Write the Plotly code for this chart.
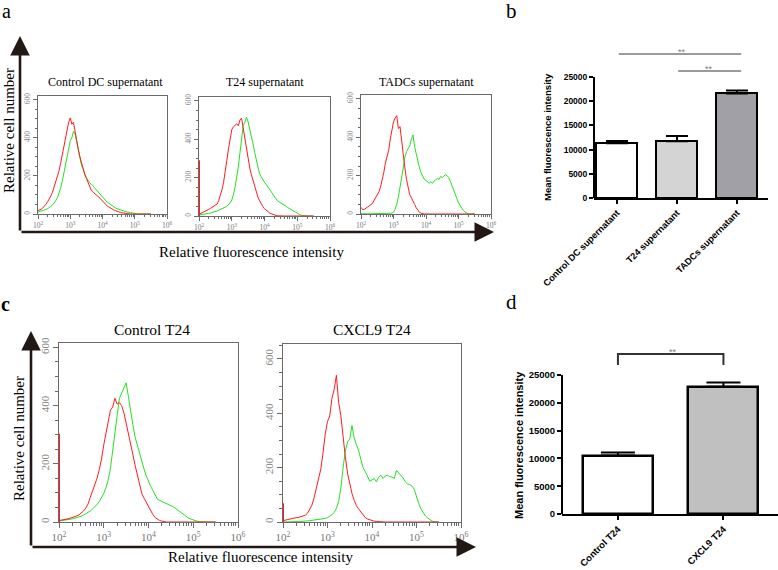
import plotly.graph_objects as go

W, H = 778, 570
SERIF = "Liberation Serif"
SANS = "Liberation Sans"
RED = "#ff1c1c"
GREEN = "#24e024"

# ---------------- data ----------------
LOG_GRID = [2.00, 2.05, 2.10, 2.15, 2.20, 2.25, 2.30, 2.35, 2.40, 2.45,
            2.50, 2.55, 2.60, 2.65, 2.70, 2.75, 2.80, 2.85, 2.90, 2.95,
            3.00, 3.05, 3.10, 3.15, 3.20, 3.25, 3.30, 3.35, 3.40, 3.45,
            3.50, 3.55, 3.60, 3.65, 3.70, 3.75, 3.80, 3.85, 3.90, 3.95,
            4.00, 4.05, 4.10, 4.15, 4.20, 4.25, 4.30, 4.35, 4.40, 4.45,
            4.50, 4.55, 4.60, 4.65, 4.70, 4.75, 4.80, 4.85, 4.90, 4.95,
            5.00, 5.05, 5.10, 5.15, 5.20, 5.25, 5.30, 5.35, 5.40, 5.45,
            5.50]

A1_RED = [18, 20, 25, 32, 40, 52, 65, 78, 95, 115,
          140, 165, 195, 225, 265, 310, 350, 395, 440, 482,
          505, 472, 482, 430, 385, 340, 300, 265, 240, 210,
          188, 165, 140, 125, 118, 108, 100, 95, 85, 76,
          70, 60, 50, 42, 36, 30, 25, 21, 18, 14,
          12, 9, 7, 5, 4, 2, 1, 0, 0, 0,
          0, 0, 0, 0, 0, 0, 0, 0, 0, 0, 0]
A1_GREEN = [10, 12, 14, 17, 20, 24, 28, 33, 40, 48,
            58, 70, 85, 105, 135, 170, 210, 255, 300, 345,
            385, 400, 435, 420, 380, 340, 295, 255, 235, 205,
            190, 175, 165, 155, 150, 138, 128, 120, 105, 95,
            88, 78, 70, 62, 55, 48, 42, 36, 32, 28,
            26, 24, 20, 17, 14, 11, 9, 6, 4, 3,
            1, 0, 0, 0, 0, 0, 0, 0, 0, 0, 0]
A2_RED = [8, 12, 16, 20, 25, 30, 35, 40, 45, 50,
          55, 62, 80, 105, 136, 175, 223, 290, 350, 410,
          450, 465, 475, 480, 470, 500, 510, 455, 400, 340,
          290, 250, 215, 185, 150, 125, 98, 80, 62, 49,
          38, 30, 23, 17, 12, 8, 5, 3, 1, 0,
          0, 0, 0, 0, 0, 0, 0, 0, 0, 0,
          0, 0, 0, 0, 0, 0, 0, 0, 0, 0, 0]
A2_GREEN = [5, 6, 8, 10, 12, 13, 14, 16, 18, 20,
            23, 26, 30, 33, 38, 42, 46, 50, 58, 68,
            83, 110, 150, 195, 255, 330, 405, 470, 490, 515,
            490, 455, 415, 375, 330, 290, 250, 220, 205, 188,
            175, 165, 153, 140, 125, 112, 100, 88, 78, 72,
            68, 63, 58, 52, 45, 40, 33, 28, 22, 17,
            12, 9, 5, 3, 1, 0, 0, 0, 0, 0, 0]
A3_RED = [35, 22, 24, 28, 36, 42, 48, 55, 70, 85,
          100, 115, 140, 175, 215, 265, 300, 330, 390, 440,
          480, 500, 512, 445, 455, 385, 300, 240, 180, 130,
          100, 85, 70, 50, 32, 18, 9, 4, 1, 0,
          0, 0, 0, 0, 0, 0, 0, 0, 0, 0,
          0, 0, 0, 0, 0, 0, 0, 0, 0, 0,
          0, 0, 0, 0, 0, 0, 0, 0, 0, 0, 0]
A3_GREEN = [2, 1, 1, 1, 1, 1, 1, 1, 1, 1,
            1, 1, 1, 1, 2, 2, 2, 3, 4, 5,
            10, 25, 50, 90, 135, 185, 240, 295, 325, 340,
            355, 390, 412, 350, 310, 265, 240, 215, 195, 180,
            175, 165, 160, 168, 160, 172, 178, 185, 180, 195,
            190, 198, 205, 200, 190, 170, 150, 125, 100, 80,
            58, 42, 28, 18, 10, 5, 2, 0, 0, 0, 0]
C1_RED = [5, 6, 8, 9, 11, 13, 15, 18, 21, 25,
          30, 38, 48, 62, 85, 105, 130, 150, 180, 216,
          265, 310, 345, 385, 395, 425, 405, 410, 400, 375,
          340, 300, 265, 232, 195, 160, 122, 98, 82, 67,
          52, 40, 25, 15, 9, 5, 3, 1, 0, 0,
          0, 0, 0, 0, 0, 0, 0, 0, 0, 0,
          0, 0, 0, 0, 0, 0, 0, 0, 0, 0, 0]
C1_GREEN = [3, 4, 5, 6, 8, 10, 11, 13, 15, 17,
            20, 24, 28, 33, 38, 45, 52, 60, 70, 82,
            98, 118, 145, 185, 240, 300, 365, 425, 445, 460,
            478, 432, 375, 335, 292, 262, 235, 212, 182, 158,
            138, 122, 108, 92, 78, 74, 70, 66, 62, 58,
            56, 53, 48, 43, 37, 30, 24, 18, 13, 10,
            7, 4, 2, 1, 0, 0, 0, 0, 0, 0, 0]
C2_RED = [5, 7, 9, 11, 14, 15, 16, 17, 19, 22,
          25, 32, 45, 62, 90, 124, 152, 195, 255, 325,
          370, 390, 455, 488, 540, 440, 391, 305, 240, 180,
          142, 105, 80, 60, 48, 37, 24, 16, 11, 8,
          5, 3, 2, 1, 0, 0, 0, 0, 0, 0,
          0, 0, 0, 0, 0, 0, 0, 0, 0, 0,
          0, 0, 0, 0, 0, 0, 0, 0, 0, 0, 0]
C2_GREEN = [0, 1, 1, 1, 1, 2, 2, 2, 2, 2,
            3, 4, 5, 6, 7, 8, 9, 10, 11, 13,
            16, 20, 27, 35, 50, 75, 125, 200, 260, 295,
            305, 355, 310, 285, 262, 230, 200, 185, 170, 150,
            155, 160, 148, 165, 172, 160, 170, 172, 167, 165,
            160, 190, 180, 172, 162, 148, 140, 138, 132, 120,
            90, 68, 48, 32, 22, 15, 8, 3, 1, 0, 0]

# first-channel pile-up at 10^2 : (red, green)
SPIKES = {"a1": (0, 0), "a2": (290, 92), "a3": (0, 0), "c1": (303, 173), "c2": (69, 0)}

HIST_TITLES = ["Control DC supernatant", "T24 supernatant", "TADCs supernatant",
               "Control T24", "CXCL9 T24"]
HIST_TICKS_X = [1e2, 1e3, 1e4, 1e5, 1e6]
HIST_TICKTEXT_X = ["10<sup>2</sup>", "10<sup>3</sup>", "10<sup>4</sup>", "10<sup>5</sup>", "10<sup>6</sup>"]
HIST_TICKS_Y = [0, 200, 400, 600]

B_CATS = ["Control DC supernatant", "T24 supernatant", "TADCs supernatant"]
B_MEANS = [11300, 11700, 21600]
B_ERRS = [500, 1100, 600]
B_COLORS = ["#ffffff", "#d4d4d4", "#a0a0a6"]

D_CATS = ["Control T24", "CXCL9 T24"]
D_MEANS = [10500, 22900]
D_ERRS = [550, 750]
D_COLORS = ["#ffffff", "#c0c0c0"]

BAR_TICKS_Y = [0, 5000, 10000, 15000, 20000, 25000]


def px(x):
    return x / W


def py(y):
    return 1 - y / H


fig = go.Figure()

# --------- histogram panels ---------
HPANELS = [
    ("a1", "", (38, 167), (96, 214), 620, 7.5, A1_RED, A1_GREEN),
    ("a2", "2", (199, 330), (97, 216), 620, 7.5, A2_RED, A2_GREEN),
    ("a3", "3", (361, 491), (95, 214), 620, 7.5, A3_RED, A3_GREEN),
    ("c1", "5", (59, 238), (343, 522), 615, 11, C1_RED, C1_GREEN),
    ("c2", "6", (283, 461), (344, 522), 655, 11, C2_RED, C2_GREEN),
]
XS = [10 ** v for v in LOG_GRID]
MINOR_X = [m * 10 ** e for e in range(2, 6) for m in range(2, 10)]

layout_axes = {}
for key, sfx, (x0, x1), (y0, y1), ymax, fs, red, green in HPANELS:
    xa = "x" + sfx
    ya = "y" + sfx
    fig.add_trace(go.Scatter(x=XS, y=green, mode="lines", line=dict(color=GREEN, width=1),
                             xaxis=xa, yaxis=ya, showlegend=False, hoverinfo="skip"))
    fig.add_trace(go.Scatter(x=XS, y=red, mode="lines", line=dict(color=RED, width=1),
                             xaxis=xa, yaxis=ya, showlegend=False, hoverinfo="skip"))
    sr, sg = SPIKES[key]
    if sg:
        fig.add_trace(go.Scatter(x=[100, 100], y=[0, sg], mode="lines", line=dict(color=GREEN, width=2),
                                 xaxis=xa, yaxis=ya, showlegend=False, hoverinfo="skip"))
    if sr:
        fig.add_trace(go.Scatter(x=[100, 100], y=[0, sr], mode="lines", line=dict(color=RED, width=2),
                                 xaxis=xa, yaxis=ya, showlegend=False, hoverinfo="skip"))
    layout_axes["xaxis" + sfx] = dict(
        type="log", range=[2, 6], domain=[px(x0), px(x1)], anchor=ya, automargin=False,
        showline=True, mirror=True, linecolor="#6a6a6a", linewidth=1,
        ticks="outside", ticklen=4 if fs < 10 else 5, tickcolor="#6a6a6a",
        tickmode="array", tickvals=HIST_TICKS_X, ticktext=HIST_TICKTEXT_X,
        tickfont=dict(family=SERIF, size=fs, color="#777777"),
        minor=dict(tickmode="array", tickvals=MINOR_X, ticks="outside",
                   ticklen=2 if fs < 10 else 3, tickcolor="#6a6a6a"),
        showgrid=False, zeroline=False, fixedrange=True,
    )
    layout_axes["yaxis" + sfx] = dict(
        range=[0, ymax], domain=[py(y1), py(y0)], anchor=xa, automargin=False,
        showline=True, mirror=True, linecolor="#6a6a6a", linewidth=1,
        ticks="outside", ticklen=4 if fs < 10 else 5, tickcolor="#6a6a6a",
        tickmode="array", tickvals=HIST_TICKS_Y, tickangle=-90,
        tickfont=dict(family=SERIF, size=fs, color="#888888"),
        minor=dict(dtick=50, tick0=0, ticks="outside", ticklen=2 if fs < 10 else 3, tickcolor="#6a6a6a"),
        showgrid=False, zeroline=False, fixedrange=True,
    )

# --------- bar panels ---------
fig.add_trace(go.Bar(
    x=B_CATS, y=B_MEANS, width=0.683,
    marker=dict(color=B_COLORS, line=dict(color="black", width=2)),
    error_y=dict(type="data", array=B_ERRS, arrayminus=[0] * len(B_ERRS), symmetric=False,
                 thickness=2, width=11, color="black"),
    xaxis="x4", yaxis="y4", showlegend=False, hoverinfo="skip"))
fig.add_trace(go.Bar(
    x=D_CATS, y=D_MEANS, width=0.664,
    marker=dict(color=D_COLORS, line=dict(color="black", width=2.5)),
    error_y=dict(type="data", array=D_ERRS, arrayminus=[0] * len(D_ERRS), symmetric=False,
                 thickness=2, width=17, color="black"),
    xaxis="x7", yaxis="y7", showlegend=False, hoverinfo="skip"))

B_YTOP = 25000 * (198 - 45) / 121
D_YTOP = 25000 * (514 - 340) / 139

layout_axes["xaxis4"] = dict(
    type="category", domain=[px(594), px(768)], range=[-0.383, 2.517], anchor="y4", automargin=False,
    showline=True, linecolor="black", linewidth=2, ticks="outside", ticklen=4, tickwidth=1.5,
    tickcolor="black", tickangle=-45,
    tickfont=dict(family=SANS, size=9.2, color="black", weight="bold"),
    showgrid=False, zeroline=False, fixedrange=True)
layout_axes["yaxis4"] = dict(
    domain=[py(198), py(45)], range=[0, B_YTOP], anchor="x4", automargin=False,
    showline=False, ticks="outside", ticklen=4, tickwidth=1.5, tickcolor="black",
    tickmode="array", tickvals=BAR_TICKS_Y, tickformat="d",
    tickfont=dict(family=SANS, size=8.5, color="black", weight="bold"),
    showgrid=False, zeroline=False, fixedrange=True)
layout_axes["xaxis7"] = dict(
    type="category", domain=[px(562), px(778)], range=[-0.53, 1.517], anchor="y7", automargin=False,
    showline=True, linecolor="black", linewidth=2, ticks="outside", ticklen=4, tickwidth=1.5,
    tickcolor="black", tickangle=-45,
    tickfont=dict(family=SANS, size=9.5, color="black", weight="bold"),
    showgrid=False, zeroline=False, fixedrange=True)
layout_axes["yaxis7"] = dict(
    domain=[py(514), py(340)], range=[0, D_YTOP], anchor="x7", automargin=False,
    showline=False, ticks="outside", ticklen=4, tickwidth=1.5, tickcolor="black",
    tickmode="array", tickvals=BAR_TICKS_Y, tickformat="d",
    tickfont=dict(family=SANS, size=9.5, color="black", weight="bold"),
    showgrid=False, zeroline=False, fixedrange=True)

shapes = [
    dict(type="line", xref="x4 domain", yref="y4", x0=0, x1=0, y0=0, y1=25000,
         line=dict(color="black", width=2)),
    dict(type="line", xref="x7 domain", yref="y7", x0=0, x1=0, y0=0, y1=25000,
         line=dict(color="black", width=2)),
    dict(type="line", xref="x4", yref="y4", x0=0.03, x1=2.07, y0=29750, y1=29750,
         line=dict(color="#7a7a7a", width=1.5)),
    dict(type="line", xref="x4", yref="y4", x0=1.02, x1=2.07, y0=26240, y1=26240,
         line=dict(color="#7a7a7a", width=1.5)),
    dict(type="path", xref="x7", yref="y7",
         path="M 0,26800 L 0,28780 L 1,28780 L 1,26800",
         line=dict(color="#333333", width=2)),
]

ann = []


def text(x, y, s, size, family=SERIF, color="black", angle=0, bold=False, xanchor="center",
         yanchor="middle"):
    ann.append(dict(x=px(x), y=py(y), xref="paper", yref="paper", text=s, showarrow=False,
                    textangle=angle, xanchor=xanchor, yanchor=yanchor,
                    font=dict(family=family, size=size, color=color,
                              weight="bold" if bold else "normal")))


text(6, 11, "a", 20)
text(512, 11, "b", 21)
text(5, 304, "c", 20, bold=True)
text(512, 302, "d", 21)

text(105, 82, HIST_TITLES[0], 12)
text(265, 82, HIST_TITLES[1], 12)
text(426, 82, HIST_TITLES[2], 12)
text(152, 329, HIST_TITLES[3], 15.5)
text(372, 329, HIST_TITLES[4], 15.5)

text(9, 131, "Relative cell number", 15, angle=-90)
text(252, 252, "Relative fluorescence intensity", 15)
text(19, 439, "Relative cell number", 15, angle=-90)
text(260, 557, "Relative fluorescence intensity", 15)

text(548, 137, "Mean fluorescence intensity", 9.5, family=SANS, angle=-90, bold=True)
text(519, 445, "Mean fluorescence intensity", 11, family=SANS, angle=-90, bold=True)

for (x, y, xr, yr) in [(1.08, 29750, "x4", "y4"), (1.53, 26240, "x4", "y4"), (0.52, 28780, "x7", "y7")]:
    ann.append(dict(x=x, y=y, xref=xr, yref=yr, text="**", showarrow=False, yanchor="bottom",
                    yshift=-5, font=dict(family=SANS, size=9, color="#7a7a7a")))

AC = "#231815"
for (tx, ty, axp, ayp) in [(20, 36, 0, 196), (494, 232, -474, 0), (31, 331, 0, 216), (476, 547, -445, 0)]:
    ann.append(dict(x=px(tx), y=py(ty), xref="paper", yref="paper", text="", showarrow=True,
                    ax=axp, ay=ayp, arrowhead=2, arrowsize=1.5, arrowwidth=2.6, arrowcolor=AC,
                    standoff=0, startstandoff=0))

fig.update_layout(
    width=W, height=H, autosize=False,
    margin=dict(l=0, r=0, t=0, b=0, pad=0, autoexpand=False),
    paper_bgcolor="white", plot_bgcolor="white",
    shapes=shapes, annotations=ann, showlegend=False, bargap=0,
    **layout_axes,
)

fig.write_html(
    "out.html",
    config={"displayModeBar": False},
    post_script="document.body.style.margin='0';document.body.style.padding='0';"
                "document.documentElement.style.overflow='hidden';",
)
